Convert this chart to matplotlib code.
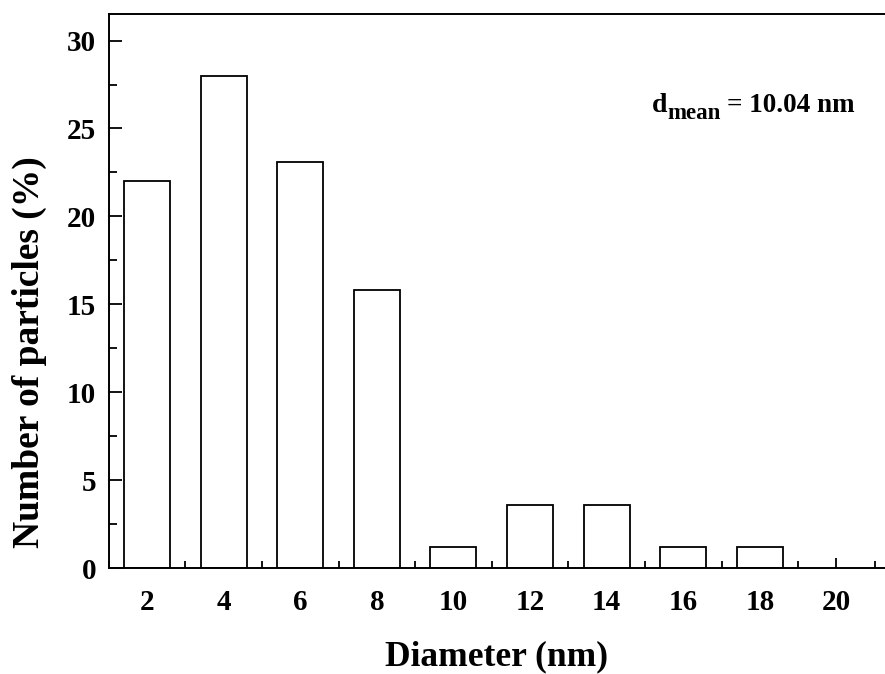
import matplotlib
matplotlib.use("Agg")
import matplotlib.pyplot as plt
from matplotlib.ticker import MultipleLocator

plt.rcParams['font.family'] = ['Liberation Serif', 'DejaVu Serif']
plt.rcParams['font.weight'] = 'bold'

diameters = [2, 4, 6, 8, 10, 12, 14, 16, 18]
percent = [22.0, 28.0, 23.1, 15.8, 1.2, 3.6, 3.6, 1.2, 1.2]
xticks = [2, 4, 6, 8, 10, 12, 14, 16, 18, 20]
yticks = [0, 5, 10, 15, 20, 25, 30]

W, H = 885, 674
fig = plt.figure(figsize=(W / 100, H / 100), dpi=100)
ax = fig.add_axes([0.123, 0.157, 0.877, 0.822])

ax.bar(diameters, percent, width=1.2, facecolor='white', edgecolor='black',
       linewidth=1.3, zorder=2)
ax.set_axisbelow(True)

ax.set_xlim(1, 21.27)
ax.set_ylim(0, 31.5)
ax.set_xticks(xticks)
ax.set_yticks(yticks)
ax.xaxis.set_minor_locator(MultipleLocator(1))
ax.yaxis.set_minor_locator(MultipleLocator(2.5))

ax.tick_params(axis='both', which='major', direction='in', labelsize=21,
               width=1.3)
ax.tick_params(axis='x', which='major', length=7, pad=15)
ax.tick_params(axis='x', which='minor', direction='in', length=5, width=1.3)
ax.tick_params(axis='y', which='major', length=9, pad=9)
ax.tick_params(axis='y', which='minor', direction='in', length=6, width=1.3)

for s in ['left', 'bottom', 'top']:
    ax.spines[s].set_linewidth(1.4)
ax.spines['right'].set_visible(False)

ax.set_xlabel('Diameter (nm)', fontsize=25.5, fontweight='bold')
ax.xaxis.set_label_coords(0.499, -0.130)
ax.set_ylabel('Number of particles (%)', fontsize=27, fontweight='bold')
ax.yaxis.set_label_coords(-0.080, 0.39)

# annotation d_mean = 10.04 nm
fig.text(652 / W, 1 - 112 / H, 'd', fontsize=20, fontweight='bold',
         ha='left', va='baseline')
fig.text(667 / W, 1 - 119 / H, 'mean', fontsize=16.5, fontweight='bold',
         ha='left', va='baseline')
fig.text(727 / W, 1 - 112 / H, '= 10.04 nm', fontsize=19.5, fontweight='bold',
         ha='left', va='baseline')

fig.savefig('out.png', dpi=100)
